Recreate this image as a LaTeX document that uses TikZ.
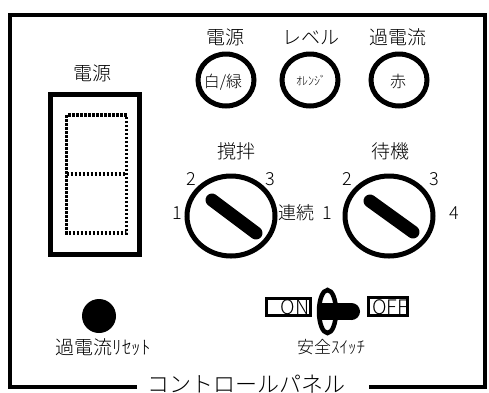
\documentclass[tikz,border=0pt]{standalone}
\usepackage{fontspec}
\setmainfont{Noto Sans CJK JP}[UprightFont={* Light}]
\usetikzlibrary{shapes.geometric}
\begin{document}
\begin{tikzpicture}[x=1pt,y=-1pt,
  lbl/.style={font=\fontsize{19}{19}\selectfont, inner sep=0pt, anchor=base},
  num/.style={font=\fontsize{18}{18}\selectfont, inner sep=0pt, anchor=base},
  inlbl/.style={font=\fontsize{16}{16}\selectfont, inner sep=0pt, anchor=base},
  lamp/.style={draw, ellipse, line width=5pt, minimum width=56pt, minimum height=52pt, inner sep=0pt},
  knob/.style={draw, ellipse, line width=5pt, minimum width=88pt, minimum height=80pt, inner sep=0pt},
  handle/.style={line width=13pt, line cap=round},
  segdash/.style={line width=3.5pt, dash pattern=on 2.5pt off 1.5pt},
  swbox/.style={draw, line width=3pt, inner sep=0pt}
]
\useasboundingbox (0,0) rectangle (489,392);
% frame
\draw[line width=4pt] (137,387) -- (10,387) -- (10,15) -- (485,15) -- (485,387) -- (369,387);
\node[font=\fontsize{22}{22}\selectfont, inner sep=0pt, anchor=base] (title) at (246,392) {コントロールパネル};

% display
\node[lbl] (disptitle) at (92.5,80) {電源};
\draw[line width=5pt] (50,94) rectangle (139,254);
\draw[segdash] (66.5,115) rectangle (126.5,233);
\draw[segdash] (66.5,174) -- (126.5,174);

% lamps
\node[lbl] (lt1) at (225,44) {電源};
\node[lbl] (lt2) at (311,44) {レベル};
\node[lbl] (lt3) at (398,44) {過電流};
\node[lamp] (lamp1) at (226,80) {};
\node[lamp] (lamp2) at (310,80) {};
\node[lamp] (lamp3) at (399,80) {};
\node[inlbl] (lc1) at (223,87) {白/緑};
\node[inlbl, font=\fontsize{12}{12}\selectfont] (lc2) at (311,85) {ｵﾚﾝｼﾞ};
\node[inlbl] (lc3) at (398,87) {赤};

% knobs
\node[lbl] (kt1) at (236,158) {撹拌};
\node[lbl] (kt2) at (390,158) {待機};
\node[knob] (k1) at (231,216) {};
\node[knob] (k2) at (389,216) {};
\draw[handle] ([shift={(-19,-16)}]k1.center) -- ([shift={(25,17)}]k1.center);
\draw[handle] ([shift={(-19,-15)}]k2.center) -- ([shift={(24,16)}]k2.center);
\node[num] (k1n1) at (177,219) {1};
\node[num] (k1n2) at (191,185.5) {2};
\node[num] (k1n3) at (270,185.5) {3};
\node[lbl, font=\fontsize{18}{18}\selectfont] (k1n4) at (296,219.5) {連続};
\node[num] (k2n1) at (327,219) {1};
\node[num] (k2n2) at (347,185.5) {2};
\node[num] (k2n3) at (434,185.5) {3};
\node[num] (k2n4) at (454,219) {4};

% reset
\node[fill, circle, minimum size=34pt, inner sep=0pt] (reset) at (99,316) {};
\node[lbl] (resetl) at (103,354) {過電流ﾘｾｯﾄ};

% safety switch
\node[swbox, minimum width=44pt, minimum height=17pt] (onbox) at (288.5,306.5) {};
\node[swbox, minimum width=39pt, minimum height=18pt] (offbox) at (387.5,306) {};
\node[font=\fontsize{20}{20}\selectfont, inner sep=0pt, anchor=base east] (ont) at (309.5,314.5) {ON};
\node[font=\fontsize{20}{20}\selectfont, inner sep=0pt, anchor=base east] (offt) at (408,314.5) {OFF};
\node[draw, ellipse, line width=4.5pt, minimum width=17pt, minimum height=43pt, inner sep=0pt] (tog) at (327.5,311.5) {};
\fill (319,303) rectangle (351,320);
\fill (351.5,311.5) circle (8.5pt);
\node[lbl, font=\fontsize{17}{17}\selectfont] (safel) at (331,353.5) {安全ｽｲｯﾁ};
\end{tikzpicture}
\end{document}
